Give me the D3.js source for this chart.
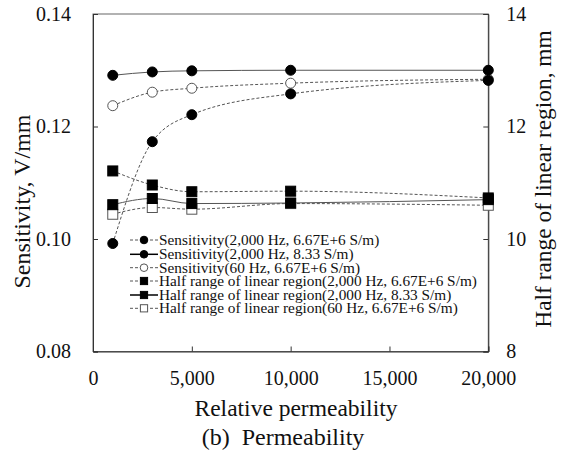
<!DOCTYPE html>
<html><head><meta charset="utf-8">
<script src="https://cdn.jsdelivr.net/npm/d3@7/dist/d3.min.js"></script>
<style>body{margin:0;background:#fff}svg{display:block}</style>
</head><body><svg id="c" width="566" height="457"></svg>
<script>
const permeability = [1000, 3000, 5000, 10000, 20000];
const sens2000High = [0.0992, 0.1173, 0.1221, 0.1258, 0.1282];
const sens2000Low = [0.1291, 0.1297, 0.1299, 0.1300, 0.1300];
const sens60High = [0.1237, 0.1261, 0.1268, 0.1277, 0.1284];
const half2000High = [11.21, 10.96, 10.84, 10.85, 10.73];
const half2000Low = [10.61, 10.72, 10.63, 10.64, 10.70];
const half60High = [10.44, 10.56, 10.53, 10.63, 10.60];
const xTicks = [0, 5000, 10000, 15000, 20000];
const yLeftTicks = [0.08, 0.10, 0.12, 0.14];
const yRightTicks = [8, 10, 12, 14];
const seriesNames = [
  "Sensitivity(2,000 Hz, 6.67E+6 S/m)",
  "Sensitivity(2,000 Hz, 8.33 S/m)",
  "Sensitivity(60 Hz, 6.67E+6 S/m)",
  "Half range of linear region(2,000 Hz, 6.67E+6 S/m)",
  "Half range of linear region(2,000 Hz, 8.33 S/m)",
  "Half range of linear region(60 Hz, 6.67E+6 S/m)"
];

const FONT = "Liberation Serif";
const svg = d3.select("#c");
const L = 93, R = 488.3, T = 14, B = 351.5;
const x = d3.scaleLinear().domain([0, 20000]).range([L, R]);
const yL = d3.scaleLinear().domain([0.08, 0.14]).range([B, T]);
const yR = d3.scaleLinear().domain([8, 14]).range([B, T]);

const axisColor = "#333";
svg.append("rect").attr("x", L).attr("y", T).attr("width", R - L).attr("height", B - T)
  .attr("fill", "none").attr("stroke", "#666").attr("stroke-width", 1);

const fmt = d3.format(",");
const gx = svg.append("g").attr("transform", `translate(0,${B})`)
  .call(d3.axisBottom(x).tickValues(xTicks).tickSize(-5).tickPadding(0).tickFormat(fmt));
gx.selectAll("text").attr("dy", null).attr("y", 33);
const gl = svg.append("g").attr("transform", `translate(${L},0)`)
  .call(d3.axisLeft(yL).tickValues(yLeftTicks).tickSize(-5).tickFormat(d3.format(".2f")));
gl.selectAll("text").attr("x", -22);
const gr = svg.append("g").attr("transform", `translate(${R},0)`)
  .call(d3.axisRight(yR).tickValues(yRightTicks).tickSize(-5).tickFormat(d3.format("d")));
gr.selectAll("text").attr("x", 18);
[gx, gl, gr].forEach(g => {
  g.attr("font-family", FONT).attr("font-size", 20);
  g.select(".domain").attr("stroke", axisColor);
  g.selectAll(".tick line").attr("stroke", axisColor);
  g.selectAll("text").attr("fill", "#111");
});

function label(sel, size) {
  return sel.attr("font-family", FONT).attr("font-size", size).attr("fill", "#111");
}
label(svg.append("text").attr("x", 296).attr("y", 416).attr("text-anchor", "middle"), 23.5)
  .text("Relative permeability");
label(svg.append("text").attr("x", 283).attr("y", 445).attr("text-anchor", "middle"), 24)
  .style("white-space", "pre").text("(b)  Permeability");
label(svg.append("text").attr("transform", "translate(30,201.5) rotate(-90)").attr("text-anchor", "middle"), 24)
  .text("Sensitivity, V/mm");
label(svg.append("text").attr("transform", "translate(551,179) rotate(-90)").attr("text-anchor", "middle"), 23.4)
  .text("Half range of linear region, mm");

const series = [
  {vals: sens2000High, y: yL, dash: "3,2", marker: "circle", fill: "#000"},
  {vals: sens2000Low, y: yL, dash: null, marker: "circle", fill: "#000"},
  {vals: sens60High, y: yL, dash: "3,2", marker: "circle", fill: "#fff"},
  {vals: half2000High, y: yR, dash: "3,2", marker: "square", fill: "#000"},
  {vals: half2000Low, y: yR, dash: null, marker: "square", fill: "#000"},
  {vals: half60High, y: yR, dash: "3,2", marker: "square", fill: "#fff"}
];

function drawMarker(g, type, cx, cy, size, fill) {
  if (type === "circle") {
    g.append("circle").attr("cx", cx).attr("cy", cy).attr("r", size)
      .attr("fill", fill).attr("stroke", fill === "#fff" ? "#555" : "#000").attr("stroke-width", 1);
  } else {
    g.append("rect").attr("x", cx - size).attr("y", cy - size).attr("width", size * 2).attr("height", size * 2)
      .attr("fill", fill).attr("stroke", fill === "#fff" ? "#555" : "#000").attr("stroke-width", 1);
  }
}

const order = [5, 2, 4, 3, 1, 0];
order.forEach(i => {
  const s = series[i];
  const data = permeability.map((p, j) => [p, s.vals[j]]);
  const line = d3.line().x(d => x(d[0])).y(d => s.y(d[1])).curve(d3.curveMonotoneX);
  svg.append("path").attr("d", line(data)).attr("fill", "none")
    .attr("stroke", "#555").attr("stroke-width", 1)
    .attr("stroke-dasharray", s.dash);
});
order.forEach(i => {
  const s = series[i];
  const g = svg.append("g");
  permeability.forEach((p, j) => {
    drawMarker(g, s.marker, x(p), s.y(s.vals[j]), 5, s.fill);
  });
});

const lg = svg.append("g");
const legendRows = [240, 254.3, 267.7, 281, 295, 308.3];
seriesNames.forEach((name, i) => {
  const s = series[i];
  const yy = legendRows[i];
  lg.append("line").attr("x1", 130).attr("x2", 158).attr("y1", yy).attr("y2", yy)
    .attr("stroke", s.dash ? "#555" : "#000").attr("stroke-width", s.dash ? 1 : 1.5)
    .attr("stroke-dasharray", s.dash);
  drawMarker(lg, s.marker, 144, yy, s.marker === "circle" ? 3.8 : 3.6, s.fill);
  label(lg.append("text").attr("x", 159).attr("y", yy).attr("dy", "0.33em"), 15.3).text(name);
});
</script></body></html>
